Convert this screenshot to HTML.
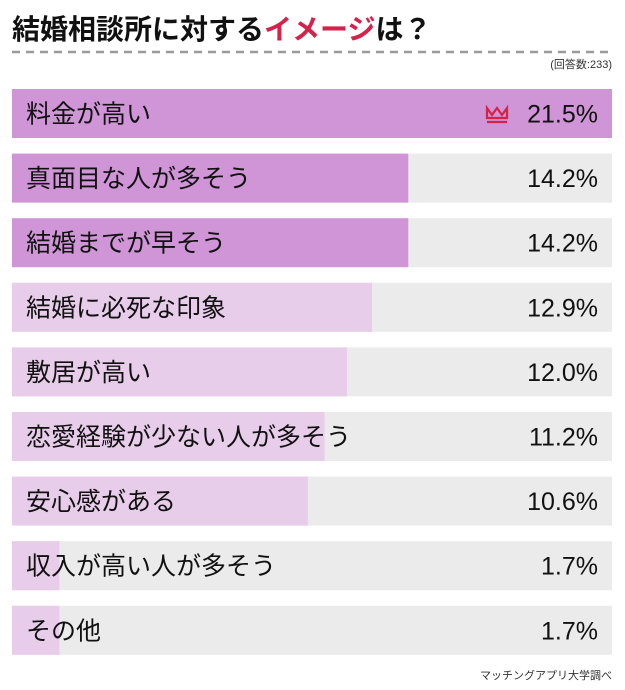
<!DOCTYPE html>
<html><head><meta charset="utf-8"><style>
html,body{margin:0;padding:0;background:#fff;}
svg{display:block;font-family:"Liberation Sans","Noto Sans CJK JP",sans-serif;}
</style></head><body>
<svg id="chart" width="625" height="690" viewBox="0 0 625 690">
<text x="12" y="39" font-size="28" font-weight="bold" fill="#111">結婚相談所に対する<tspan fill="#d6224a">イメージ</tspan>は？</text>
<line x1="12" y1="52" x2="612" y2="52" stroke="#9a9a9a" stroke-width="2.5" stroke-dasharray="8,6"/>
<text x="612" y="68" font-size="11" fill="#333" text-anchor="end">(回答数:233)</text>
<g id="bars"></g>
<text x="612" y="679" font-size="11" fill="#333" text-anchor="end">マッチングアプリ大学調べ</text>
</svg>
<script>
const categories=["料金が高い","真面目な人が多そう","結婚までが早そう","結婚に必死な印象","敷居が高い","恋愛経験が少ない人が多そう","安心感がある","収入が高い人が多そう","その他"];
const values=[21.5,14.2,14.2,12.9,12.0,11.2,10.6,1.7,1.7];
const labels=["21.5%","14.2%","14.2%","12.9%","12.0%","11.2%","10.6%","1.7%","1.7%"];
const ns="http://www.w3.org/2000/svg";
const g=document.getElementById('bars');
const x0=12,W=600,top0=89,step=64.6,bh=49;
const maxV=Math.max(...values);
const xs=v=>v/maxV*W;
function mk(t,a){const e=document.createElementNS(ns,t);for(const k in a)e.setAttribute(k,a[k]);return e;}
categories.forEach((c,i)=>{
  const y=top0+i*step;
  const bg=mk('rect',{x:x0,y:y,width:W,height:bh,fill:'#ebebeb'});
  
  
  g.appendChild(bg);
  const top3=values[i]>=values[2];
  const b=mk('rect',{x:x0,y:y,width:xs(values[i]),height:bh,fill:top3?'#cf95d6':'#e8cdea'});
  
  
  g.appendChild(b);
  const t=mk('text',{x:26,y:y+bh/2+9,'font-size':25,fill:'#111'});
  t.textContent=c;
  
  
  g.appendChild(t);
  const v=mk('text',{x:598,y:y+bh/2+9,'font-size':25,fill:'#111','text-anchor':'end'});
  v.textContent=labels[i];
  
  
  g.appendChild(v);
  if(i===0){
    const cr=mk('path',{d:'M487 108 L492 115 L497 108 L502 115 L507 108 L507 118 L487 118 Z M487 122 L507 122',fill:'none',stroke:'#d6224a','stroke-width':2.2});
    
    
    g.appendChild(cr);
  }
});
</script>
</body></html>
